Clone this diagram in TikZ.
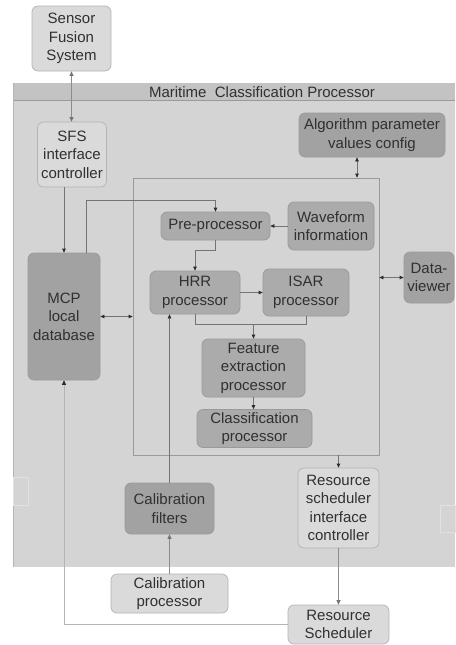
\documentclass[tikz,border=0pt]{standalone}
\usepackage{fontspec}
\setmainfont{Liberation Sans}
\usetikzlibrary{arrows.meta,calc}
\definecolor{panelbg}{HTML}{D4D4D4}
\definecolor{headbg}{HTML}{C3C3C3}
\definecolor{darkbox}{HTML}{ABABAB}
\definecolor{darkerbox}{HTML}{A2A2A2}
\definecolor{lightbox}{HTML}{DADADA}
\definecolor{boxline}{HTML}{B4B4B4}
\definecolor{darkline}{HTML}{9A9A9A}
\definecolor{txt}{HTML}{303030}
\definecolor{wire}{HTML}{747474}
\definecolor{outerwire}{HTML}{8C8C8C}
\definecolor{tipcol}{HTML}{2A2A2A}
\begin{document}
\begin{tikzpicture}[x=1pt,y=-1pt,
  every node/.style={font=\fontsize{15}{18.5}\selectfont, text=txt, align=center, inner sep=0pt},
  blk/.style={rounded corners=6pt, minimum width=#1},
  lightblk/.style={draw=boxline, fill=lightbox, line width=0.7pt},
  darkblk/.style={draw=darkline, fill=darkbox, line width=0.7pt},
  darkerblk/.style={draw=darkline, fill=darkerbox, line width=0.7pt},
  tip/.style={Triangle[length=4pt,width=3.5pt,color=tipcol]},
  wirestyle/.style={draw=wire, line width=0.7pt, -{Triangle[length=4pt,width=3.5pt,color=tipcol]}},
  twoway/.style={draw=wire, line width=0.7pt, {Triangle[length=4pt,width=3.5pt,color=tipcol]}-{Triangle[length=4pt,width=3.5pt,color=tipcol]}},
  outerarrow/.style={draw=outerwire, line width=0.8pt, -{Triangle[length=4.5pt,width=4pt,color=wire]}},
  outertwoway/.style={draw=outerwire, line width=0.8pt, {Triangle[length=4.5pt,width=4pt,color=wire]}-{Triangle[length=4.5pt,width=4pt,color=wire]}},
]
\useasboundingbox (0,0) rectangle (455,645);
\fill[white] (0,0) rectangle (455,645);

% processor panel with title band
\fill[panelbg] (13,83) rectangle (455,567);
\fill[headbg] (13,83) rectangle (455,100);
\draw[darkline, line width=0.5pt] (13,100) -- (455,100);
\draw[boxline, line width=0.5pt] (13,83) -- (13,567);
\node (title) at (262,92) {Maritime\ \ Classification Processor};

% faint empty frames at the panel edges
\draw[white!30!panelbg, line width=0.6pt] (13,477) rectangle (28,505);
\draw[white!30!panelbg, line width=0.6pt] (440,505) rectangle (455,532);

% inner processing frame
\node[draw=darkline, line width=0.7pt, minimum width=246pt, minimum height=277pt] (core) at (256,316.5) {};

% blocks
\node[blk=79pt, lightblk, minimum height=65pt] (sfs) at (71.5,38.5) {Sensor\\Fusion\\System};
\node[blk=69pt, lightblk, minimum height=65pt] (sfsic) at (72,154.5) {SFS\\interface\\controller};
\node[blk=146pt, darkerblk, minimum height=44pt] (algo) at (372,135) {Algorithm parameter\\values config};
\node[blk=72pt, darkerblk, minimum height=127pt] (mcpdb) at (64,316.5) {MCP\\local\\database};
\node[blk=109pt, darkblk, minimum height=28pt] (pre) at (215.5,226) {Pre-processor};
\node[blk=86pt, darkblk, minimum height=48pt] (wave) at (331,226) {Waveform\\information};
\node[blk=90pt, darkblk, minimum height=43pt] (hrr) at (195,292.5) {HRR\\processor};
\node[blk=86pt, darkblk, minimum height=47pt] (isar) at (306,292.5) {ISAR\\processor};
\node[blk=103pt, darkblk, minimum height=58pt] (feat) at (253.5,368) {Feature\\extraction\\processor};
\node[blk=115pt, darkblk, minimum height=38pt] (class) at (254.5,428.5) {Classification\\processor};
\node[blk=50pt, darkerblk, minimum height=51pt] (dv) at (429,277.5) {Data-\\viewer};
\node[blk=89pt, darkerblk, minimum height=51pt] (calf) at (169.5,508.5) {Calibration\\filters};
\node[blk=117pt, lightblk, minimum height=39pt] (calp) at (169.5,593.5) {Calibration\\processor};
\node[blk=81pt, lightblk, minimum height=80pt] (rsic) at (338.5,508) {Resource\\scheduler\\interface\\controller};
\node[blk=101pt, lightblk, minimum height=39pt] (rs) at (338.5,624.5) {Resource\\Scheduler};

% connectors
\draw[outertwoway] (sfs.south) -- (sfs.south |- sfsic.north);
\draw[wirestyle] (sfsic.south -| mcpdb.north) -- (mcpdb.north);
\draw[wirestyle] ([xshift=-14pt]mcpdb.north east) |- ([yshift=11pt]pre.north) -- (pre.north);
\draw[wirestyle] (wave.west) -- (pre.east);
\draw[wirestyle] (pre.south) -- ++(0,10) -| (hrr.north);
\draw[wirestyle] (hrr.east) -- (hrr.east -| isar.west);
\draw[draw=wire, line width=0.7pt] (hrr.south) -- ++(0,10) -| (isar.south);
\coordinate (merge) at ([yshift=-10pt]hrr.south -| feat.north);
\draw[wirestyle] (merge) -- (feat.north);
\draw[wirestyle] (feat.south) -- (feat.south |- class.north);
\draw[twoway] (mcpdb.east) -- (mcpdb.east -| core.west);
\draw[twoway] ([xshift=-15pt]algo.south) -- ([xshift=-15pt]algo.south |- core.north);
\draw[twoway] (dv.west -| core.east) -- (dv.west);
\draw[wirestyle] (calf.north) -- (calf.north |- hrr.south);
\draw[outerarrow] (calp.north) -- (calf.south);
\draw[wirestyle] (rsic.north |- core.south) -- (rsic.north);
\draw[outerarrow] (rsic.south) -- (rs.north);
\draw[draw=boxline, line width=0.8pt, -{Triangle[length=4.5pt,width=4pt,color=tipcol]}] (rs.west) -| (mcpdb.south);
\end{tikzpicture}
\end{document}
